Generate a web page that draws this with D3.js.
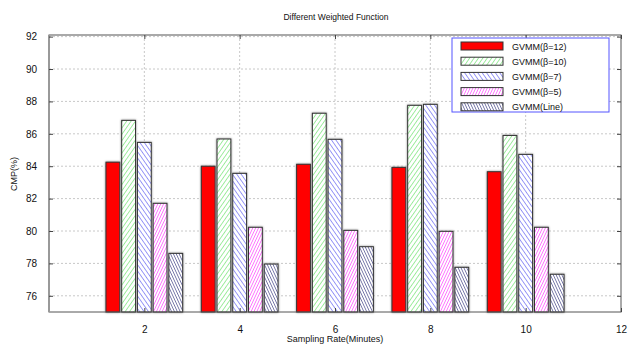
<!DOCTYPE html>
<html><head><meta charset="utf-8">
<script src="https://cdn.jsdelivr.net/npm/d3@7"></script>
<style>body{margin:0;background:#fff}svg{display:block;font-family:"Liberation Sans",Arial,sans-serif}</style>
</head><body><svg id="c" width="628" height="347"></svg>
<script>
const categories = [2, 4, 6, 8, 10];
const seriesNames = ["GVMM(β=12)", "GVMM(β=10)", "GVMM(β=7)", "GVMM(β=5)", "GVMM(Line)"];
const s12 = [84.25, 84.0, 84.12, 83.93, 83.66];
const s10 = [86.83, 85.68, 87.27, 87.76, 85.9];
const s7 = [85.47, 83.56, 85.66, 87.82, 84.73];
const s5 = [81.71, 80.23, 80.04, 79.98, 80.23];
const sLine = [78.62, 77.96, 79.03, 77.76, 77.33];
const yTicks = [76, 78, 80, 82, 84, 86, 88, 90, 92];
const xTicks = [2, 4, 6, 8, 10, 12];
const series = [s12, s10, s7, s5, sLine];

const svg = d3.select("#c");
const M = {l: 49, r: 621, t: 35, b: 312};
const x = d3.scaleLinear().domain([0, 12]).range([M.l, M.r]);
const y = d3.scaleLinear().domain([75, 92.1]).range([M.b, M.t]);

// patterns
const defs = svg.append("defs");
function pat(id, color, spacing, dir, sw) {
  const p = defs.append("pattern").attr("id", id).attr("patternUnits", "userSpaceOnUse")
    .attr("width", spacing).attr("height", spacing)
    .attr("patternTransform", `rotate(${dir})`);
  p.append("rect").attr("width", spacing).attr("height", spacing).attr("fill", "#fff");
  p.append("line").attr("x1", 0).attr("y1", 0).attr("x2", 0).attr("y2", spacing)
    .attr("stroke", color).attr("stroke-width", sw);
}
pat("pg", "#55dd55", 3.6, 35, 1.1);
pat("pb", "#4848f0", 3.6, -35, 1.1);
pat("pp", "#ff30ff", 2.6, 25, 1.2);
pat("pl", "#202070", 2.6, -25, 1.1);
const fills = ["#ff0000", "url(#pg)", "url(#pb)", "url(#pp)", "url(#pl)"];

// grid
const g = svg.append("g");
g.selectAll(".hg").data(yTicks).enter().append("line")
  .attr("x1", M.l).attr("x2", M.r).attr("y1", d => y(d)).attr("y2", d => y(d))
  .attr("stroke", "#c8c8c8").attr("stroke-dasharray", "2,2");
g.selectAll(".vg").data(xTicks.slice(0, -1)).enter().append("line")
  .attr("y1", M.t).attr("y2", M.b).attr("x1", d => x(d)).attr("x2", d => x(d))
  .attr("stroke", "#c8c8c8").attr("stroke-dasharray", "2,2");

// bars
const slot = 0.33, bw = 0.29;
series.forEach((vals, si) => {
  svg.append("g").selectAll("rect").data(vals).enter().append("rect")
    .attr("x", (d, i) => x(categories[i] - 2.5 * slot + si * slot + (slot - bw) / 2))
    .attr("width", x(bw) - x(0))
    .attr("y", d => y(d))
    .attr("height", d => y(75) - y(d))
    .attr("fill", fills[si])
    .attr("stroke", "#333").attr("stroke-width", 1)
    .style("filter", "drop-shadow(0 0 0.8px #888)");
});

// frame
svg.append("rect").attr("x", M.l).attr("y", M.t).attr("width", M.r - M.l).attr("height", M.b - M.t)
  .attr("fill", "none").attr("stroke", "#555").attr("stroke-width", 1);
svg.append("line").attr("x1", M.l).attr("x2", M.l).attr("y1", M.t).attr("y2", M.b)
  .attr("stroke", "#999").attr("stroke-width", 2);

// axes
const yAx = svg.append("g").attr("transform", `translate(${M.l},0)`)
  .call(d3.axisLeft(y).tickValues(yTicks).tickSize(-4).tickPadding(12).tickFormat(d3.format("d")));
const xAx = svg.append("g").attr("transform", `translate(0,${M.b})`)
  .call(d3.axisBottom(x).tickValues(xTicks).tickSize(-4).tickPadding(14).tickFormat(d3.format("d")));
const yR = svg.append("g").attr("transform", `translate(${M.r},0)`)
  .call(d3.axisRight(y).tickValues(yTicks).tickSize(-4).tickFormat(""));
const xT = svg.append("g").attr("transform", `translate(0,${M.t})`)
  .call(d3.axisTop(x).tickValues(xTicks).tickSize(-4).tickFormat(""));
[yAx, xAx, yR, xT].forEach(a => {
  a.select(".domain").remove();
  a.selectAll(".tick line").attr("stroke", "#444");
  a.selectAll("text").attr("font-size", 10).attr("fill", "#111")
    .attr("font-family", "Liberation Sans, Arial, sans-serif");
});

// titles
svg.append("text").attr("x", 336).attr("y", 20).attr("text-anchor", "middle")
  .attr("font-size", 8.5).attr("fill", "#111").text("Different Weighted Function");
svg.append("text").attr("x", 335).attr("y", 342).attr("text-anchor", "middle")
  .attr("font-size", 9).attr("fill", "#111").text("Sampling Rate(Minutes)");
svg.append("text").attr("transform", "translate(17,174) rotate(-90)").attr("text-anchor", "middle")
  .attr("font-size", 9).attr("fill", "#111").text("CMP(%)");

// legend
const lg = svg.append("g");
lg.append("rect").attr("x", 452).attr("y", 38).attr("width", 157).attr("height", 74)
  .attr("fill", "#fff").attr("stroke", "#5555ff").attr("stroke-width", 1);
seriesNames.forEach((n, i) => {
  const yy = 46 + i * 15.2;
  lg.append("rect").attr("x", 461).attr("y", yy - 4).attr("width", 42).attr("height", 8)
    .attr("fill", fills[i]).attr("stroke", "#333").attr("stroke-width", 1);
  lg.append("text").attr("x", 512).attr("y", yy + 3.5).attr("font-size", 9).attr("fill", "#111").text(n);
});
</script></body></html>
